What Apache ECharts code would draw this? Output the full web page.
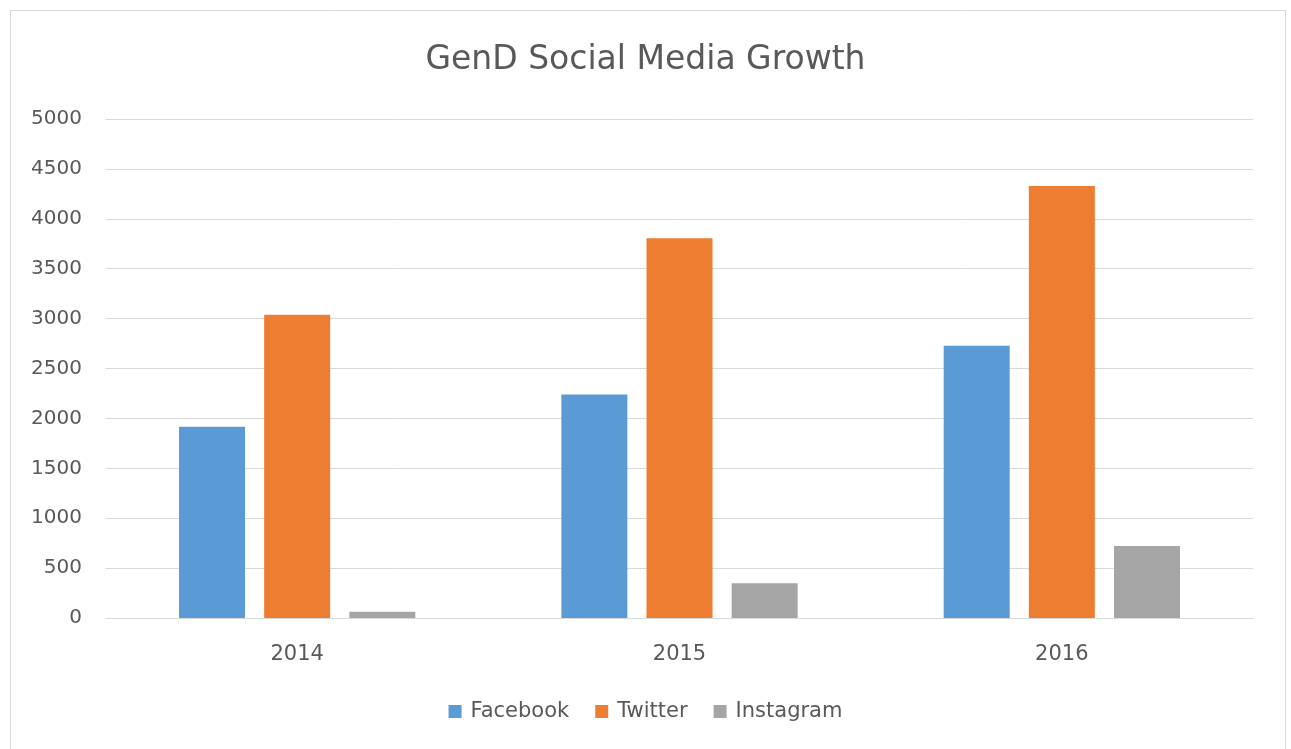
<!DOCTYPE html>
<html><head><meta charset="utf-8">
<script src="https://cdn.jsdelivr.net/npm/echarts@6/dist/echarts.min.js"></script>
<style>html,body{margin:0;padding:0;background:#fff}#c{width:1291px;height:749px}</style>
</head><body><div id="c"></div>
<script>
const categories = ['2014', '2015', '2016'];
const facebook = [1917, 2240, 2728];
const twitter = [3039, 3805, 4329];
const instagram = [63, 348, 721];
const seriesNames = ['Facebook', 'Twitter', 'Instagram'];

const chart = echarts.init(document.getElementById('c'));
const font = 'DejaVu Sans';
chart.setOption({
  animation: false,
  backgroundColor: '#fff',
  graphic: [{type: 'rect', shape: {x: 10.5, y: 10.5, width: 1275, height: 745}, style: {fill: 'none', stroke: '#d9d9d9', lineWidth: 1}}],
  title: {text: 'GenD Social Media Growth', left: 'center', top: 39, textStyle: {fontFamily: font, fontSize: 33, fontWeight: 'normal', color: '#595959'}},
  legend: {bottom: 22, left: 'center', itemWidth: 13, itemHeight: 13, itemGap: 26, icon: 'rect',
    textStyle: {fontFamily: font, fontSize: 21, color: '#595959', padding: [0, 0, 0, 4]}, data: seriesNames},
  grid: {left: 106, right: 38, top: 119, bottom: 131, containLabel: false},
  xAxis: {type: 'category', data: categories,
    axisLine: {lineStyle: {color: '#d9d9d9', width: 1}}, axisTick: {show: false},
    axisLabel: {fontFamily: font, fontSize: 21, color: '#595959', margin: 26}},
  yAxis: {type: 'value', min: 0, max: 5000, interval: 500,
    axisLine: {show: false}, axisTick: {show: false},
    splitLine: {lineStyle: {color: '#d9d9d9', width: 1}},
    axisLabel: {fontFamily: font, fontSize: 20, color: '#595959', margin: 24, formatter: v => String(v)}},
  series: [
    {name: seriesNames[0], type: 'bar', data: facebook, barWidth: 66, barGap: '29%', itemStyle: {color: '#5B9BD5'}},
    {name: seriesNames[1], type: 'bar', data: twitter, barWidth: 66, barGap: '29%', itemStyle: {color: '#ED7D31'}},
    {name: seriesNames[2], type: 'bar', data: instagram, barWidth: 66, barGap: '29%', itemStyle: {color: '#A5A5A5'}}
  ]
});
</script></body></html>
